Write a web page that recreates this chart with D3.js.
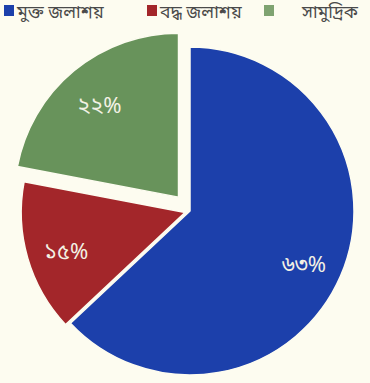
<!DOCTYPE html>
<html>
<head>
<meta charset="utf-8">
<script src="https://cdn.jsdelivr.net/npm/d3@7"></script>
<style>
  html, body { margin: 0; padding: 0; background: #fdfcf0; }
  svg { display: block; }
  text { font-family: "Noto Sans Bengali", "Lohit Bengali", "Noto Sans", sans-serif; }
</style>
</head>
<body>
<svg id="chart" width="370" height="383"></svg>
<script>
// Share of fish production by source
const categories = ["মুক্ত জলাশয়", "বদ্ধ জলাশয়", "সামুদ্রিক"];
const values = [63, 15, 22];
const valueLabels = ["৬৩%", "১৫%", "২২%"];
const colors = ["#1c40ab", "#a3262a", "#68935b"];

const W = 370, H = 383;
const cx = 190, cy = 211, R = 164;
const explode = [0, 5, 18];      // outward shift of each slice along its bisector
const labelR = 124;

const svg = d3.select("#chart");
svg.append("rect").attr("width", W).attr("height", H).attr("fill", "#fdfcf0");

const pie = d3.pie().sort(null).value(d => d.v);
const arcs = pie(values.map((v, i) => ({ v, i })));
const arc = d3.arc().innerRadius(0).outerRadius(R);
const labelArc = d3.arc().innerRadius(labelR).outerRadius(labelR);

const g = svg.append("g").attr("transform", `translate(${cx},${cy})`);

const slice = g.selectAll("g.slice").data(arcs).join("g")
  .attr("class", "slice")
  .attr("transform", d => {
    const a = (d.startAngle + d.endAngle) / 2;
    const k = explode[d.data.i];
    return `translate(${k * Math.sin(a)},${-k * Math.cos(a)})`;
  });

slice.append("path")
  .attr("d", arc)
  .attr("fill", d => colors[d.data.i])
  .attr("stroke", "#fdfcf0")
  .attr("stroke-width", 1.5)
  .attr("stroke-linejoin", "round");

slice.append("text")
  .attr("transform", d => `translate(${labelArc.centroid(d)})`)
  .attr("text-anchor", "middle")
  .attr("dominant-baseline", "central")
  .attr("dy", "0.28em")
  .attr("font-size", 22)
  .attr("fill", "#f3f1e4")
  .text(d => valueLabels[d.data.i]);

// Legend across the top
const legendX = [4, 147, 264];
const textX = [17, 160, 302];
const legend = svg.append("g");
categories.forEach((c, i) => {
  legend.append("rect")
    .attr("x", legendX[i]).attr("y", 5)
    .attr("width", 10).attr("height", 11)
    .attr("fill", colors[i])
    .attr("opacity", i === 2 ? 0.85 : 1);
  legend.append("text")
    .attr("x", textX[i]).attr("y", 18)
    .attr("font-size", 17.5)
    .attr("fill", "#4a4a4a")
    .text(c);
});
</script>
</body>
</html>
